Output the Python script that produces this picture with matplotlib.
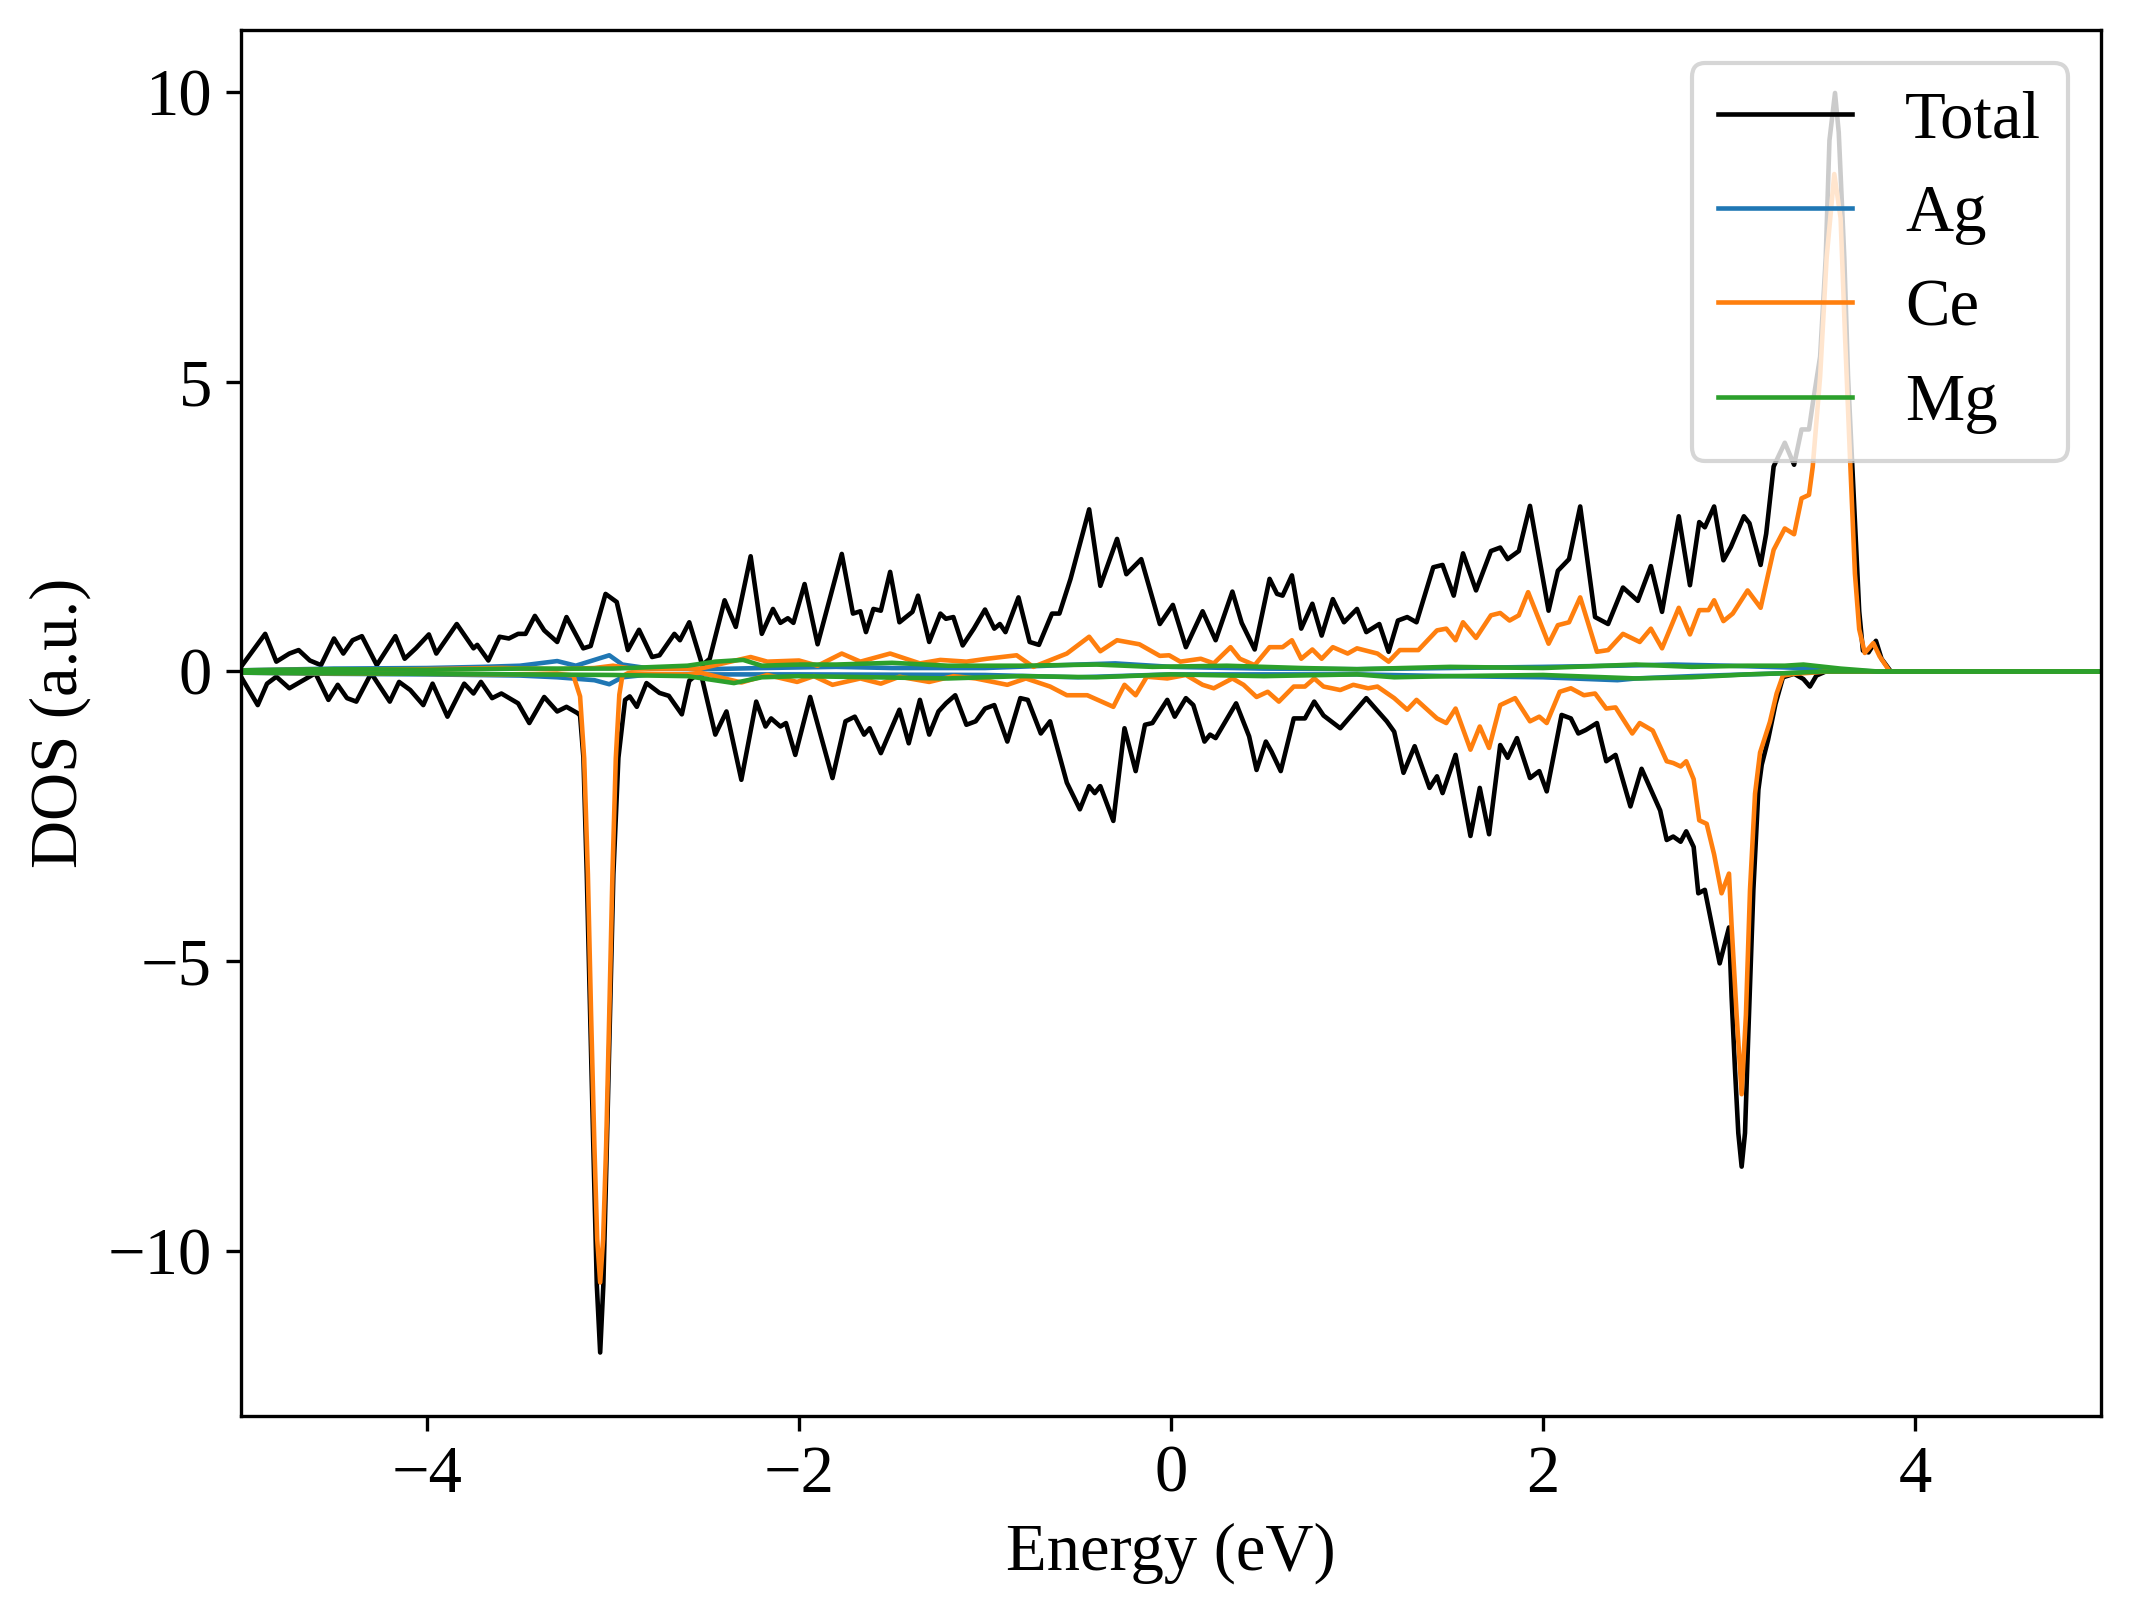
import matplotlib.pyplot as plt

# (energy, DOS) pairs
total_up = [
    (-5.0, 0.08), (-4.87, 0.65), (-4.81, 0.17), (-4.74, 0.31), (-4.69, 0.37), (-4.63, 0.19),
    (-4.57, 0.11), (-4.50, 0.57), (-4.45, 0.31), (-4.40, 0.54), (-4.35, 0.61), (-4.27, 0.11),
    (-4.17, 0.61), (-4.12, 0.22), (-4.06, 0.40), (-3.99, 0.64), (-3.95, 0.31), (-3.84, 0.82),
    (-3.75, 0.40), (-3.73, 0.46), (-3.67, 0.19), (-3.61, 0.60), (-3.56, 0.57), (-3.51, 0.65),
    (-3.47, 0.65), (-3.42, 0.96), (-3.37, 0.71), (-3.30, 0.51), (-3.25, 0.94), (-3.16, 0.40),
    (-3.12, 0.44), (-3.04, 1.34), (-2.98, 1.20), (-2.92, 0.37), (-2.86, 0.72), (-2.79, 0.25),
    (-2.75, 0.28), (-2.67, 0.65), (-2.64, 0.54), (-2.59, 0.85), (-2.52, 0.11), (-2.48, 0.22),
    (-2.40, 1.23), (-2.34, 0.77), (-2.26, 1.99), (-2.20, 0.65), (-2.14, 1.08), (-2.10, 0.84),
    (-2.06, 0.92), (-2.03, 0.84), (-1.97, 1.51), (-1.90, 0.47), (-1.77, 2.03), (-1.71, 1.00),
    (-1.67, 1.04), (-1.64, 0.68), (-1.60, 1.08), (-1.56, 1.05), (-1.51, 1.72), (-1.46, 0.85),
    (-1.39, 1.03), (-1.36, 1.31), (-1.30, 0.51), (-1.24, 1.00), (-1.21, 0.91), (-1.17, 0.94),
    (-1.12, 0.45), (-1.06, 0.74), (-1.00, 1.07), (-0.95, 0.74), (-0.92, 0.82), (-0.89, 0.68),
    (-0.82, 1.28), (-0.76, 0.51), (-0.71, 0.46), (-0.64, 1.00), (-0.60, 1.00), (-0.54, 1.60),
    (-0.44, 2.80), (-0.38, 1.48), (-0.29, 2.29), (-0.24, 1.68), (-0.16, 1.94), (-0.06, 0.82),
    (0.01, 1.15), (0.08, 0.42), (0.17, 1.04), (0.24, 0.54), (0.33, 1.38), (0.38, 0.84),
    (0.45, 0.38), (0.53, 1.60), (0.57, 1.34), (0.60, 1.31), (0.65, 1.66), (0.70, 0.74),
    (0.76, 1.17), (0.81, 0.62), (0.87, 1.25), (0.93, 0.85), (1.00, 1.08), (1.05, 0.68),
    (1.12, 0.82), (1.17, 0.34), (1.22, 0.88), (1.27, 0.94), (1.32, 0.85), (1.41, 1.80),
    (1.46, 1.84), (1.52, 1.31), (1.57, 2.04), (1.64, 1.40), (1.72, 2.08), (1.77, 2.14),
    (1.81, 1.94), (1.87, 2.08), (1.93, 2.86), (2.03, 1.05), (2.08, 1.74), (2.14, 1.94),
    (2.20, 2.85), (2.28, 0.94), (2.35, 0.82), (2.43, 1.45), (2.51, 1.22), (2.58, 1.82),
    (2.64, 1.03), (2.73, 2.68), (2.79, 1.49), (2.84, 2.58), (2.87, 2.49), (2.92, 2.85),
    (2.97, 1.92), (3.01, 2.15), (3.08, 2.68), (3.11, 2.56), (3.17, 1.84), (3.20, 2.38),
    (3.24, 3.54), (3.30, 3.95), (3.35, 3.57), (3.39, 4.18), (3.43, 4.18), (3.45, 4.62),
    (3.49, 5.44), (3.52, 7.14), (3.54, 9.17), (3.57, 9.99), (3.59, 9.31), (3.62, 7.14),
    (3.64, 5.10), (3.67, 3.06), (3.70, 1.04), (3.72, 0.36), (3.75, 0.33), (3.79, 0.53),
    (3.82, 0.22), (3.87, 0.0), (5.0, 0.0),
]

total_down = [
    (-5.0, -0.09), (-4.91, -0.58), (-4.86, -0.21), (-4.81, -0.09), (-4.74, -0.29), (-4.60, -0.03),
    (-4.53, -0.49), (-4.48, -0.23), (-4.43, -0.46), (-4.38, -0.52), (-4.30, -0.03), (-4.20, -0.52),
    (-4.15, -0.18), (-4.09, -0.32), (-4.02, -0.58), (-3.97, -0.21), (-3.89, -0.78), (-3.80, -0.21),
    (-3.75, -0.38), (-3.71, -0.18), (-3.65, -0.46), (-3.60, -0.38), (-3.51, -0.55), (-3.45, -0.89),
    (-3.37, -0.44), (-3.30, -0.69), (-3.25, -0.61), (-3.19, -0.72), (-3.177, -0.76), (-3.159, -1.49),
    (-3.141, -3.5), (-3.123, -5.9), (-3.105, -8.3), (-3.087, -10.6), (-3.069, -11.76), (-3.052, -10.6),
    (-3.034, -8.3), (-3.016, -5.9), (-2.998, -3.5), (-2.971, -1.49), (-2.935, -0.49), (-2.91, -0.43),
    (-2.872, -0.61), (-2.82, -0.20), (-2.75, -0.37), (-2.70, -0.42), (-2.63, -0.74), (-2.59, -0.16),
    (-2.53, 0.0), (-2.45, -1.09), (-2.39, -0.69), (-2.31, -1.87), (-2.23, -0.52), (-2.18, -0.95),
    (-2.15, -0.81), (-2.10, -0.95), (-2.07, -0.89), (-2.02, -1.44), (-1.94, -0.44), (-1.82, -1.84),
    (-1.75, -0.86), (-1.70, -0.78), (-1.65, -1.09), (-1.62, -0.98), (-1.56, -1.41), (-1.46, -0.66),
    (-1.41, -1.24), (-1.35, -0.49), (-1.30, -1.09), (-1.25, -0.69), (-1.21, -0.55), (-1.16, -0.41),
    (-1.10, -0.92), (-1.05, -0.86), (-1.00, -0.64), (-0.95, -0.58), (-0.88, -1.21), (-0.81, -0.46),
    (-0.77, -0.49), (-0.70, -1.07), (-0.65, -0.86), (-0.56, -1.92), (-0.49, -2.38), (-0.44, -1.98),
    (-0.41, -2.10), (-0.38, -1.98), (-0.31, -2.58), (-0.25, -0.98), (-0.19, -1.72), (-0.14, -0.92),
    (-0.10, -0.89), (-0.02, -0.49), (0.02, -0.78), (0.08, -0.46), (0.12, -0.58), (0.18, -1.21),
    (0.21, -1.09), (0.24, -1.15), (0.35, -0.55), (0.42, -1.12), (0.46, -1.70), (0.51, -1.21),
    (0.54, -1.38), (0.59, -1.72), (0.66, -0.81), (0.72, -0.81), (0.77, -0.52), (0.82, -0.76),
    (0.91, -0.98), (0.98, -0.72), (1.05, -0.46), (1.16, -0.86), (1.20, -1.04), (1.25, -1.75),
    (1.31, -1.29), (1.39, -2.01), (1.43, -1.81), (1.46, -2.10), (1.53, -1.44), (1.61, -2.84),
    (1.66, -2.01), (1.71, -2.81), (1.77, -1.27), (1.81, -1.49), (1.86, -1.15), (1.93, -1.84),
    (1.98, -1.72), (2.02, -2.07), (2.10, -0.75), (2.15, -0.81), (2.19, -1.07), (2.23, -1.01),
    (2.29, -0.89), (2.34, -1.55), (2.39, -1.44), (2.47, -2.33), (2.53, -1.68), (2.59, -2.11),
    (2.63, -2.40), (2.665, -2.91), (2.70, -2.85), (2.74, -2.94), (2.77, -2.76), (2.81, -3.03),
    (2.835, -3.83), (2.87, -3.77), (2.92, -4.57), (2.95, -5.04), (3.00, -4.42), (3.014, -5.62),
    (3.032, -6.86), (3.05, -7.97), (3.068, -8.55), (3.086, -7.97), (3.104, -6.24), (3.131, -3.77),
    (3.158, -2.04), (3.176, -1.61), (3.21, -1.18), (3.25, -0.56), (3.29, -0.10), (3.35, -0.04),
    (3.40, -0.13), (3.435, -0.26), (3.47, -0.07), (3.52, 0.0), (5.0, 0.0),
]

ce_up = [
    (-5.0, 0.02), (-4.5, 0.03), (-4.0, 0.04), (-3.6, 0.06), (-3.3, 0.04), (-3.1, 0.06),
    (-3.0, 0.10), (-2.9, 0.05), (-2.7, 0.05), (-2.53, 0.05), (-2.26, 0.25), (-2.17, 0.17),
    (-2.0, 0.19), (-1.9, 0.10), (-1.77, 0.31), (-1.67, 0.17), (-1.51, 0.31), (-1.35, 0.14),
    (-1.24, 0.20), (-1.10, 0.17), (-0.99, 0.22), (-0.83, 0.28), (-0.74, 0.08), (-0.56, 0.31),
    (-0.44, 0.60), (-0.38, 0.35), (-0.29, 0.54), (-0.17, 0.47), (-0.06, 0.27), (-0.01, 0.28),
    (0.05, 0.17), (0.16, 0.22), (0.23, 0.14), (0.32, 0.42), (0.37, 0.22), (0.45, 0.11),
    (0.53, 0.42), (0.60, 0.42), (0.65, 0.54), (0.70, 0.22), (0.76, 0.38), (0.81, 0.22),
    (0.87, 0.42), (0.95, 0.31), (1.00, 0.40), (1.11, 0.31), (1.17, 0.17), (1.23, 0.37),
    (1.33, 0.37), (1.43, 0.71), (1.48, 0.74), (1.53, 0.54), (1.57, 0.85), (1.64, 0.58),
    (1.72, 0.97), (1.77, 1.01), (1.82, 0.88), (1.87, 0.97), (1.92, 1.37), (2.03, 0.48),
    (2.08, 0.80), (2.14, 0.85), (2.20, 1.28), (2.29, 0.34), (2.35, 0.37), (2.43, 0.65),
    (2.52, 0.51), (2.58, 0.74), (2.64, 0.40), (2.73, 1.10), (2.79, 0.64), (2.84, 1.06),
    (2.89, 1.06), (2.92, 1.23), (2.97, 0.87), (3.02, 1.00), (3.10, 1.40), (3.17, 1.10),
    (3.24, 2.10), (3.30, 2.47), (3.35, 2.37), (3.39, 2.99), (3.43, 3.05), (3.45, 3.53),
    (3.49, 5.10), (3.525, 7.15), (3.566, 8.59), (3.60, 7.83), (3.624, 5.78), (3.65, 3.74),
    (3.677, 1.69), (3.70, 0.73), (3.73, 0.32), (3.776, 0.49), (3.81, 0.26), (3.865, 0.0),
    (5.0, 0.0),
]

ce_down = [
    (-5.0, -0.02), (-4.5, -0.03), (-4.0, -0.04), (-3.6, -0.05), (-3.3, -0.04), (-3.213, -0.07),
    (-3.177, -0.43), (-3.155, -1.5), (-3.135, -3.5), (-3.118, -5.9), (-3.10, -8.2), (-3.085, -9.8),
    (-3.069, -10.55), (-3.053, -9.8), (-3.037, -8.2), (-3.02, -5.9), (-3.003, -3.5), (-2.985, -1.5),
    (-2.966, -0.4), (-2.95, -0.08), (-2.92, -0.03), (-2.8, -0.04), (-2.6, -0.05), (-2.53, -0.02),
    (-2.31, -0.19), (-2.17, -0.06), (-2.01, -0.18), (-1.92, -0.08), (-1.82, -0.23), (-1.67, -0.12),
    (-1.56, -0.21), (-1.46, -0.09), (-1.30, -0.18), (-1.17, -0.08), (-1.05, -0.12), (-0.88, -0.23),
    (-0.78, -0.12), (-0.65, -0.26), (-0.56, -0.41), (-0.45, -0.41), (-0.31, -0.61), (-0.25, -0.23),
    (-0.19, -0.41), (-0.13, -0.09), (-0.02, -0.12), (0.08, -0.06), (0.17, -0.23), (0.23, -0.29),
    (0.33, -0.12), (0.39, -0.23), (0.46, -0.44), (0.52, -0.35), (0.58, -0.52), (0.66, -0.26),
    (0.72, -0.26), (0.77, -0.12), (0.82, -0.26), (0.91, -0.32), (0.98, -0.23), (1.06, -0.29),
    (1.11, -0.26), (1.20, -0.46), (1.27, -0.66), (1.32, -0.49), (1.43, -0.81), (1.48, -0.89),
    (1.53, -0.64), (1.61, -1.35), (1.66, -0.95), (1.71, -1.32), (1.77, -0.58), (1.85, -0.46),
    (1.93, -0.86), (1.98, -0.78), (2.02, -0.89), (2.09, -0.35), (2.15, -0.29), (2.22, -0.41),
    (2.28, -0.38), (2.34, -0.64), (2.39, -0.62), (2.48, -1.07), (2.52, -0.89), (2.59, -1.02),
    (2.63, -1.30), (2.665, -1.55), (2.70, -1.58), (2.74, -1.64), (2.77, -1.55), (2.81, -1.86),
    (2.84, -2.57), (2.88, -2.63), (2.92, -3.16), (2.96, -3.83), (3.00, -3.49), (3.014, -4.39),
    (3.041, -5.93), (3.068, -7.3), (3.091, -5.93), (3.113, -3.77), (3.14, -2.11), (3.167, -1.40),
    (3.22, -0.87), (3.256, -0.38), (3.29, -0.07), (3.35, -0.04), (3.45, -0.02), (3.52, 0.0),
    (5.0, 0.0),
]

ag_up = [
    (-5.0, 0.02), (-4.5, 0.05), (-4.0, 0.06), (-3.7, 0.08), (-3.5, 0.10), (-3.3, 0.18),
    (-3.2, 0.10), (-3.1, 0.20), (-3.02, 0.28), (-2.95, 0.12), (-2.8, 0.05), (-2.5, 0.04),
    (-2.2, 0.06), (-1.8, 0.08), (-1.5, 0.06), (-1.0, 0.06), (-0.5, 0.12), (-0.3, 0.14),
    (0.0, 0.08), (0.5, 0.05), (1.0, 0.04), (1.5, 0.06), (2.0, 0.08), (2.4, 0.10),
    (2.7, 0.12), (3.0, 0.10), (3.2, 0.08), (3.4, 0.06), (3.6, 0.02), (3.8, 0.0), (5.0, 0.0),
]

ag_down = [
    (-5.0, -0.02), (-4.5, -0.04), (-4.0, -0.05), (-3.5, -0.07), (-3.3, -0.10), (-3.1, -0.15),
    (-3.02, -0.22), (-2.95, -0.10), (-2.8, -0.05), (-2.0, -0.05), (-1.0, -0.06), (-0.5, -0.10),
    (0.0, -0.05), (1.0, -0.05), (1.5, -0.08), (2.0, -0.10), (2.4, -0.15), (2.5, -0.12),
    (2.8, -0.08), (3.0, -0.06), (3.3, -0.03), (3.5, 0.0), (5.0, 0.0),
]

mg_up = [
    (-5.0, 0.02), (-4.5, 0.04), (-4.0, 0.03), (-3.5, 0.05), (-3.0, 0.05), (-2.6, 0.10),
    (-2.45, 0.17), (-2.3, 0.20), (-2.2, 0.10), (-2.0, 0.12), (-1.8, 0.12), (-1.5, 0.15),
    (-1.2, 0.10), (-0.8, 0.10), (-0.4, 0.12), (-0.1, 0.08), (0.3, 0.10), (0.7, 0.06),
    (1.0, 0.04), (1.5, 0.08), (2.0, 0.06), (2.5, 0.12), (2.8, 0.08), (3.1, 0.10),
    (3.3, 0.10), (3.4, 0.12), (3.6, 0.05), (3.8, 0.0), (5.0, 0.0),
]

mg_down = [
    (-5.0, -0.02), (-4.5, -0.03), (-4.0, -0.04), (-3.5, -0.05), (-3.0, -0.06), (-2.6, -0.08),
    (-2.35, -0.20), (-2.2, -0.10), (-2.0, -0.08), (-1.6, -0.10), (-1.2, -0.12), (-0.8, -0.08),
    (-0.4, -0.10), (0.0, -0.05), (0.5, -0.08), (1.0, -0.05), (1.2, -0.10), (1.5, -0.08),
    (2.0, -0.06), (2.5, -0.12), (2.8, -0.10), (3.1, -0.05), (3.3, -0.03), (3.5, 0.0), (5.0, 0.0),
]

plt.rcParams['font.family'] = ['Liberation Serif', 'DejaVu Serif']
plt.rcParams['font.size'] = 16

fig = plt.figure(figsize=(2134 / 300, 1617 / 300), dpi=300)
ax = fig.add_axes([241 / 2134, 1 - 1415.5 / 1617, 1860 / 2134, 1385.5 / 1617])

lw = 1.1
series = [
    ('Total', 'k', total_up, total_down),
    ('Ag', 'tab:blue', ag_up, ag_down),
    ('Ce', 'tab:orange', ce_up, ce_down),
    ('Mg', 'tab:green', mg_up, mg_down),
]
for name, color, up, down in series:
    e, d = zip(*up)
    ax.plot(e, d, color=color, lw=lw, label=name, solid_joinstyle='round')
    e, d = zip(*down)
    ax.plot(e, d, color=color, lw=lw, solid_joinstyle='round')

ax.set_xlim(-5, 5)
ax.set_xlabel('Energy (eV)')
ax.set_ylabel('DOS (a.u.)')
ax.legend(loc='upper right')

fig.savefig('out.png', dpi=300)
